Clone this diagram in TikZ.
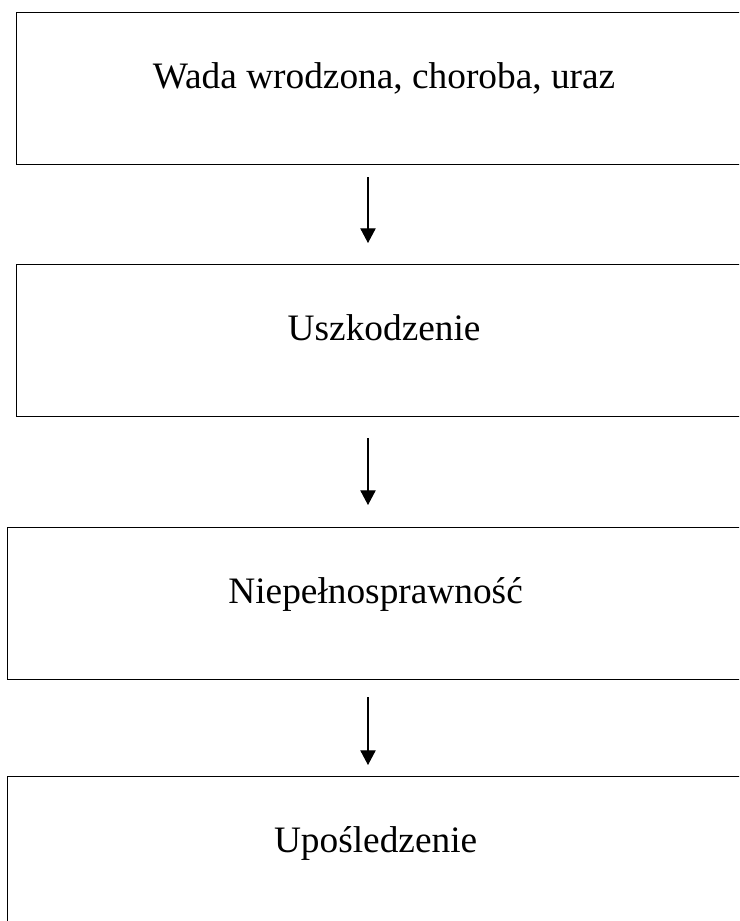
\documentclass[tikz,border=0pt]{standalone}
\usepackage{fontspec}
\setmainfont{Liberation Serif}
\usetikzlibrary{arrows.meta}
\tikzset{
	stage/.style={
			draw, line width=0.9pt, rectangle, anchor=north west, inner sep=0pt,
			minimum width=552pt, minimum height=114pt,
			text height=10pt, text depth=10pt,
			font=\fontsize{28}{34}\selectfont
		},
	flow/.style={-{Triangle[length=11pt,width=11.5pt]}, line width=0.8pt}
}

\begin{document}
\begin{tikzpicture}[x=0.75pt, y=-0.75pt]

			% Page frame
			\useasboundingbox (0,0) rectangle (739,921);
			\clip (0,0) rectangle (739,921);

			% Draw the stages
			\node[stage] (wada) at (15.5,11.5) {Wada wrodzona, choroba, uraz};
			\node[stage] (uszkodzenie) at (15.5,264) {Uszkodzenie};
			\node[stage] (niepelnosprawnosc) at (7,527) {Niepełnosprawność};
			\node[stage] (uposledzenie) at (7,776) {Upośledzenie};

			% Arrow ends between the stages
			\coordinate (a1) at (368,177);
			\coordinate (b1) at (368,243);
			\coordinate (a2) at (368,438);
			\coordinate (b2) at (368,505);
			\coordinate (a3) at (368,697);
			\coordinate (b3) at (368,765);

			% Draw the arrows
			\draw[flow] (a1) -- (b1);
			\draw[flow] (a2) -- (b2);
			\draw[flow] (a3) -- (b3);

		\end{tikzpicture}
\end{document}
